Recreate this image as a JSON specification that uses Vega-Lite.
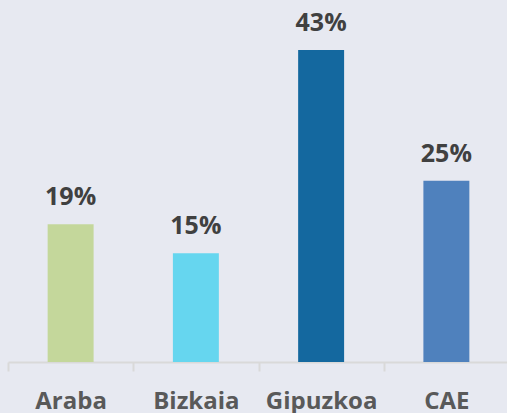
{
  "$schema": "https://vega.github.io/schema/vega-lite/v6.json",
  "width": 501,
  "height": 362,
  "autosize": "none",
  "padding": {"left": 8, "top": 0, "right": 0, "bottom": 51},
  "background": "#e7e9f1",
  "config": {"view": {"stroke": null}},
  "data": {
    "values": [
      {"region": "Araba", "pct": 19, "label": "19%"},
      {"region": "Bizkaia", "pct": 15, "label": "15%"},
      {"region": "Gipuzkoa", "pct": 43, "label": "43%"},
      {"region": "CAE", "pct": 25, "label": "25%"}
    ]
  },
  "encoding": {
    "x": {
      "field": "region",
      "type": "nominal",
      "sort": null,
      "scale": {"paddingInner": 0, "paddingOuter": 0},
      "axis": {
        "title": null,
        "labelAngle": 0,
        "tickBand": "extent",
        "domainColor": "#d9d9d9",
        "domainWidth": 2,
        "tickColor": "#d9d9d9",
        "tickWidth": 2,
        "tickSize": 9,
        "labelFont": "Open Sans",
        "labelFontWeight": "bold",
        "labelFontSize": 24,
        "labelColor": "#595959",
        "labelPadding": 18
      }
    },
    "y": {
      "field": "pct",
      "type": "quantitative",
      "scale": {"domain": [0, 49.9], "nice": false},
      "axis": null
    }
  },
  "layer": [
    {
      "mark": {"type": "bar", "width": {"band": 0.367}},
      "encoding": {
        "color": {
          "field": "region",
          "type": "nominal",
          "sort": null,
          "scale": {
            "domain": ["Araba", "Bizkaia", "Gipuzkoa", "CAE"],
            "range": ["#c4d79b", "#66d6ef", "#14689f", "#4f81bd"]
          },
          "legend": null
        }
      }
    },
    {
      "mark": {
        "type": "text",
        "baseline": "alphabetic",
        "dy": -19,
        "font": "Open Sans",
        "fontWeight": "bold",
        "fontSize": 25,
        "color": "#404040"
      },
      "encoding": {"text": {"field": "label"}}
    }
  ]
}
